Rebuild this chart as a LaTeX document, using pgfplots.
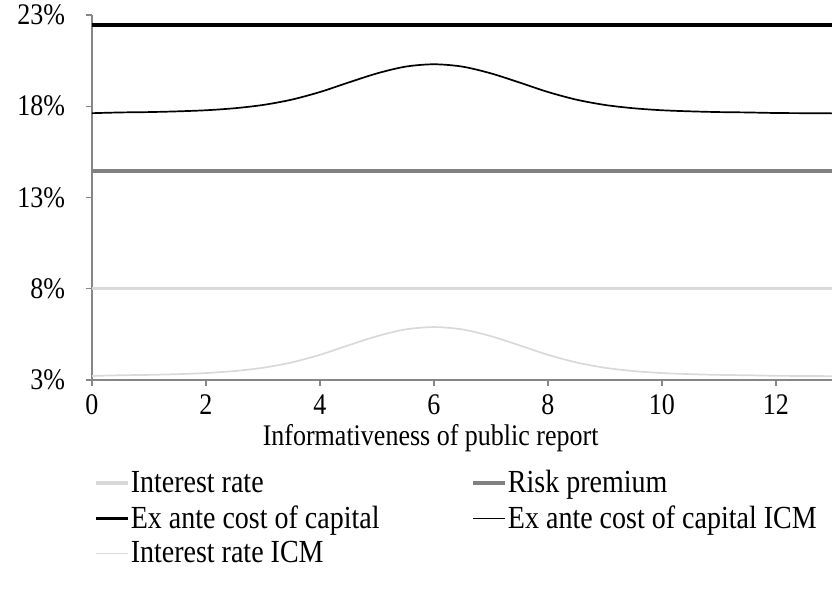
\documentclass[border=0pt]{standalone}
\usepackage{pgfplots}
\pgfplotsset{compat=1.18}
\usepackage{pgfplotstable}
\usepackage{fontspec}
\setmainfont{Liberation Serif}
\definecolor{lgray}{RGB}{217,217,217}
\definecolor{mgray}{RGB}{128,128,128}
\definecolor{axgray}{RGB}{134,134,134}
\newcommand{\tall}[1]{\scalebox{1}[1.15]{#1}}
\pgfplotstableread{
x icm iricm
0 17.62 3.22
0.5 17.66 3.26
1 17.68 3.28
1.5 17.72 3.32
2 17.78 3.38
2.5 17.89 3.49
3 18.07 3.67
3.5 18.36 3.96
4 18.78 4.38
4.5 19.30 4.90
5 19.80 5.40
5.5 20.17 5.77
6 20.30 5.90
6.5 20.17 5.77
7 19.80 5.40
7.5 19.30 4.90
8 18.78 4.38
8.5 18.36 3.96
9 18.07 3.67
9.5 17.89 3.49
10 17.78 3.38
10.5 17.72 3.32
11 17.68 3.28
11.5 17.66 3.26
12 17.63 3.23
12.5 17.62 3.22
13 17.61 3.21
}\icmdata
\pgfplotstableread{
x ir rp ex
0 8 14.45 22.45
13 8 14.45 22.45
}\flatdata
\begin{document}
\begin{tikzpicture}
\useasboundingbox (-46pt,-111.5pt) rectangle (370pt,190pt);
\begin{axis}[
  at={(0,0)}, anchor=south west,
  scale only axis,
  width=370.5pt, height=182.5pt,
  xmin=0, xmax=13, ymin=3, ymax=23,
  xtick={0,2,...,12}, ytick={3,8,13,18,23},
  xticklabel={\tall{\pgfmathprintnumber{\tick}}},
  yticklabel={\tall{\pgfmathprintnumber{\tick}\%}},
  /pgf/number format/assume math mode=true,
  axis x line=bottom, axis y line=left,
  axis line style={-, draw=axgray, line width=0.6pt},
  tick style={draw=axgray, line width=0.6pt},
  tick align=outside, major tick length=3pt,
  ticklabel style={font=\fontsize{13}{15}\selectfont},
  yticklabel style={xshift=-7pt},
  xticklabel style={yshift=-1pt},
  xlabel={\tall{Informativeness of public report}},
  xlabel style={at={(axis description cs:0.457,0)}, anchor=center, yshift=-29pt, font=\fontsize{13}{15}\selectfont},
  clip=false,
  legend columns=2,
  legend cell align=left,
  legend style={draw=none, fill=none, at={(axis description cs:0,0)}, anchor=north west, xshift=-2pt, yshift=-42pt,
    font=\fontsize{14}{16}\selectfont, row sep=3pt,
    nodes={inner xsep=0.5pt, inner ysep=1pt}},
  legend image code/.code={\draw[#1] (0pt,0pt) -- (16pt,0pt);},
]
\addplot[lgray, line width=1.6pt] table[x=x, y=ir] {\flatdata};
\addlegendentry{\makebox[170pt][l]{\tall{Interest rate}}}
\addplot[mgray, line width=1.6pt] table[x=x, y=rp] {\flatdata};
\addlegendentry{\tall{Risk premium}}
\addplot[black, line width=1.7pt] table[x=x, y=ex] {\flatdata};
\addlegendentry{\makebox[170pt][l]{\tall{Ex ante cost of capital}}}
\addplot[black, line width=0.85pt, smooth] table[x=x, y=icm] {\icmdata};
\addlegendentry{\tall{Ex ante cost of capital ICM}}
\addplot[lgray, line width=0.85pt, smooth] table[x=x, y=iricm] {\icmdata};
\addlegendentry{\tall{Interest rate ICM}}
\end{axis}
\end{tikzpicture}
\end{document}
